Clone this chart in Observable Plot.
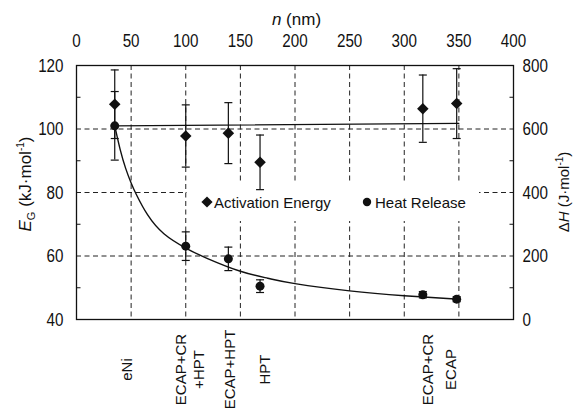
<!DOCTYPE html>
<html><head><meta charset="utf-8">
<script src="https://cdn.jsdelivr.net/npm/d3@7"></script>
<script src="https://cdn.jsdelivr.net/npm/@observablehq/plot@0.6"></script>
<style>
html,body{margin:0;padding:0;background:#fff;}
#chart{width:575px;height:412px;position:relative;}
</style></head><body><div id="chart"></div>
<script>
// ---- data ----
const samples = ["eNi", "ECAP+CR+HPT", "ECAP+HPT", "HPT", "ECAP+CR", "ECAP"];
const grainSize = [35, 100, 139, 168, 317, 348];            // n (nm)
const activationEnergy = [107.8, 97.8, 98.7, 89.5, 106.4, 108.0]; // kJ/mol
const activationErr = [10.8, 9.8, 9.6, 8.6, 10.6, 11.0];
const heatRelease = [610, 231, 191, 105, 78, 64];          // J/mol
const heatErr = [108, 45, 37, 20, 10, 8];
const energyFitN = [35, 350];
const energyFitE = [101.0, 101.8];
const heatFitN = [35, 40, 45, 50, 55, 65, 80, 100, 120, 150, 175, 200, 250, 300, 350];
const heatFitH = [610, 535, 476, 430, 392, 330, 270, 225, 192, 152, 130, 113, 90, 75, 64];
const nTicks = [0, 50, 100, 150, 200, 250, 300, 350, 400];
const eTicks = [40, 60, 80, 100, 120];
const hTicks = [0, 200, 400, 600, 800];
const minorE = [50, 70, 90, 110];
const gridN = [50, 100, 150, 200, 250, 300, 350];
const gridE = [60, 80, 100];
const categoryLabels = ["eNi", "ECAP+CR", "+HPT", "ECAP+HPT", "HPT", "ECAP+CR", "ECAP"];
const categoryPos = [51, 100, 117, 145, 177, 326, 347];
const legendLabels = ["Activation Energy", "Heat Release"];

(function () {
// right axis (ΔH 0..800) shares the frame with E (40..120)
const hToE = h => 40 + h * (120 - 40) / 800;
const eToH = e => (e - 40) * 800 / (120 - 40);

const idx = d3.range(grainSize.length);
const energyRows = idx.map(i => ({n: grainSize[i], e: activationEnergy[i], lo: activationEnergy[i] - activationErr[i], hi: activationEnergy[i] + activationErr[i]}));
const heatRows = idx.map(i => ({n: grainSize[i], e: hToE(heatRelease[i]), lo: hToE(heatRelease[i] - heatErr[i]), hi: hToE(heatRelease[i] + heatErr[i])}));
const energyFit = energyFitN.map((n, i) => ({n, e: energyFitE[i]}));
const heatFit = heatFitN.map((n, i) => ({n, e: hToE(heatFitH[i])}));

const tickFont = "'Liberation Sans Narrow', 'Liberation Sans', Arial, sans-serif";
const labelFont = "'Liberation Sans', Arial, sans-serif";

const cap = {draw(ctx) { ctx.moveTo(-4, 0); ctx.lineTo(4, 0); }};
const tickIn = {draw(ctx) { ctx.moveTo(0, 0); ctx.lineTo(4, 0); }};
const tickInR = {draw(ctx) { ctx.moveTo(0, 0); ctx.lineTo(-4, 0); }};

const dash = {stroke: "#222", strokeWidth: 1, strokeDasharray: "5,3.5"};

const plot = Plot.plot({
  width: 575,
  height: 412,
  marginLeft: 76,
  marginRight: 62,
  marginTop: 65,
  marginBottom: 93,
  style: {fontFamily: tickFont, fontSize: "19px", color: "#111", background: "white"},
  x: {domain: [0, 400]},
  y: {domain: [40, 120]},
  marks: [
    Plot.ruleX(gridN, {...dash}),
    Plot.ruleY(gridE, {...dash}),
    Plot.line(energyFit, {x: "n", y: "e", stroke: "#111", strokeWidth: 1.3}),
    Plot.line(heatFit, {x: "n", y: "e", stroke: "#111", strokeWidth: 1.4, curve: "natural"}),
    Plot.ruleX(energyRows, {x: "n", y1: "lo", y2: "hi", stroke: "#111", strokeWidth: 1.2}),
    Plot.dot(energyRows, {x: "n", y: "lo", symbol: cap, stroke: "#111", strokeWidth: 1.2}),
    Plot.dot(energyRows, {x: "n", y: "hi", symbol: cap, stroke: "#111", strokeWidth: 1.2}),
    Plot.ruleX(heatRows, {x: "n", y1: "lo", y2: "hi", stroke: "#111", strokeWidth: 1.2}),
    Plot.dot(heatRows, {x: "n", y: "lo", symbol: cap, stroke: "#111", strokeWidth: 1.2}),
    Plot.dot(heatRows, {x: "n", y: "hi", symbol: cap, stroke: "#111", strokeWidth: 1.2}),
    Plot.dot(energyRows, {x: "n", y: "e", symbol: "diamond2", r: 5.2, fill: "#111"}),
    Plot.dot(heatRows, {x: "n", y: "e", symbol: "circle", r: 4.5, fill: "#111"}),
    Plot.dot(minorE, {y: d => d, frameAnchor: "left", symbol: tickIn, stroke: "#111", strokeWidth: 1}),
    Plot.dot(minorE, {y: d => d, frameAnchor: "right", symbol: tickInR, stroke: "#111", strokeWidth: 1}),
    Plot.frame({stroke: "#111", strokeWidth: 1.3}),
    Plot.axisX(nTicks, {anchor: "top", tickSize: 0, tickPadding: 19, label: null}),
    Plot.axisY(eTicks, {anchor: "left", tickSize: 0, tickPadding: 13, label: null}),
    Plot.axisY(hTicks.map(hToE), {anchor: "right", tickSize: 0, tickPadding: 9, label: null, tickFormat: e => String(Math.round(eToH(e)))}),
    Plot.text(categoryLabels, {x: categoryPos, text: d => d, frameAnchor: "bottom", dy: 50, rotate: -90, textAnchor: "middle", fontSize: 15, fontFamily: labelFont, fill: "#111"})
  ]
});

// condensed tick numerals
plot.querySelectorAll('[aria-label$="tick label"] text').forEach(t => {
  const tr = t.getAttribute("transform") || "";
  t.setAttribute("transform", tr + " scale(0.8,1)");
});

const svg = d3.select(plot);

// legend box (white, hides the grid behind it), inserted under the data marks
const L = {x: 187, y: 184, w: 292, h: 37, cy: 202, d1: 207, t1: 214, d2: 367, t2: 375};
const firstLine = plot.querySelector('[aria-label="line"]');
const lg = d3.create("svg:g").attr("aria-label", "legend").attr("text-anchor", "start");
lg.append("rect").attr("x", L.x).attr("y", L.y).attr("width", L.w).attr("height", L.h).attr("fill", "#fff").attr("stroke", "none");
lg.append("path").attr("d", d3.symbol(d3.symbolDiamond2, 80)()).attr("transform", `translate(${L.d1},${L.cy})`).attr("fill", "#111");
lg.append("circle").attr("cx", L.d2).attr("cy", L.cy).attr("r", 4.2).attr("fill", "#111");
lg.append("text").attr("x", L.t1).attr("y", L.cy + 5.5).attr("font-size", 15).attr("font-family", labelFont).attr("fill", "#111").text(legendLabels[0]);
lg.append("text").attr("x", L.t2).attr("y", L.cy + 5.5).attr("font-size", 15).attr("font-family", labelFont).attr("fill", "#111").text(legendLabels[1]);
firstLine.parentNode.insertBefore(lg.node(), firstLine);

// axis titles with italics / sub- and superscripts
const xs = plot.scale("x"), ys = plot.scale("y");
const midX = (xs.apply(0) + xs.apply(400)) / 2;
const midY = (ys.apply(40) + ys.apply(120)) / 2;

const tTop = svg.append("text").attr("x", midX + 2).attr("y", 25).attr("text-anchor", "middle")
  .attr("font-family", tickFont).attr("font-size", 17).attr("fill", "#111");
tTop.append("tspan").attr("font-style", "italic").text("n");
tTop.append("tspan").text(" (nm)");

const tLeft = svg.append("text").attr("transform", `translate(31,${midY - 8}) rotate(-90)`).attr("text-anchor", "middle")
  .attr("font-family", labelFont).attr("font-size", 17).attr("fill", "#111");
tLeft.append("tspan").attr("font-style", "italic").text("E");
tLeft.append("tspan").attr("font-size", 11).attr("dy", 4).text("G");
tLeft.append("tspan").attr("dy", -4).text(" (kJ·mol");
tLeft.append("tspan").attr("font-size", 10).attr("dy", -7).text("-1");
tLeft.append("tspan").attr("dy", 7).text(")");

const tRight = svg.append("text").attr("transform", `translate(569,${midY}) rotate(-90)`).attr("text-anchor", "middle")
  .attr("font-family", labelFont).attr("font-size", 15).attr("fill", "#111");
tRight.append("tspan").text("Δ");
tRight.append("tspan").attr("font-style", "italic").text("H");
tRight.append("tspan").text(" (J·mol");
tRight.append("tspan").attr("font-size", 10).attr("dy", -6).text("-1");
tRight.append("tspan").attr("dy", 6).text(")");

document.getElementById("chart").appendChild(plot);
})();
</script>
</body></html>
